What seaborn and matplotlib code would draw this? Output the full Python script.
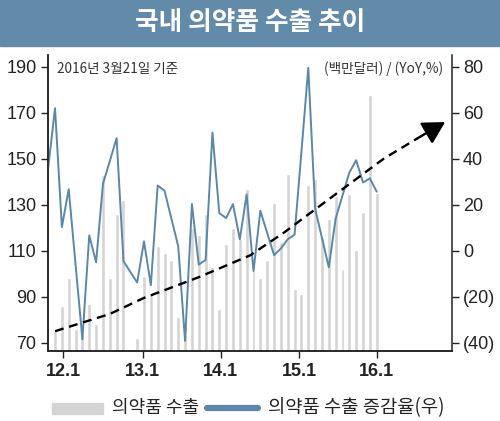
import matplotlib
matplotlib.use("Agg")

import matplotlib.pyplot as plt
import seaborn as sns
import numpy as np
import pandas as pd
from matplotlib.patches import Rectangle
from matplotlib.lines import Line2D

# monthly exports (million USD), one bar per month
export_vals = [75, 86, 98, 76, 74, 87, 78, 143, 98, 126,
               132, 66, 72, 99, 91, 112, 109, 106, 81, 78,
               120, 117, 126, 103, 84.5, 113, 119.7, 115, 136.7, 101,
               98.3, 105.8, 130.6, 114, 143.3, 93.5, 91, 138.6, 141.1, 116,
               123.7, 133.8, 101.9, 134.6, 110.2, 127, 177.8, 135.3]

# YoY growth (%), starts one month before the first bar
yoy_vals = [36, 62, 10.3, 26.8, -6, -38.5, 6.7, -5, 29, 39,
            49, -4.5, -9.2, -13.8, 4.1, -15, 28.4, 26.1, 14, 2,
            -39.2, 20.3, -6, -4, 51.4, 16.4, 14.2, 20.3, 5, 24.5,
            -8.8, 17.4, 7.7, -1.9, 1, 5, 7, 43, 79.6, 18.4,
            5.6, -7.2, 14, 24, 34, 39.4, 29.7, 31.5, 25.7]

# dashed trend (right axis units)
trend_k = [0, 8, 13, 21, 28.5, 33.5, 38, 43, 48, 53]
trend_yoy = [-35, -27.5, -20.5, -11.5, -2, 8, 18, 29, 40, 49]
arrow_tip = (57, 56)

tick_labels = ["12.1", "13.1", "14.1", "15.1", "16.1"]
tick_pos = [1.2, 12.8, 24.2, 35.7, 47.0]
left_ticks = [70, 90, 110, 130, 150, 170, 190]
right_ticks = [-40, -20, 0, 20, 40, 60, 80]
right_labels = ["(40)", "(20)", "0", "20", "40", "60", "80"]

BAR_C = "#d4d4d4"
LINE_C = "#5b87a8"
HEAD_C = "#628aa9"
KR = ["Noto Sans CJK KR", "DejaVu Sans"]

sns.set_style("white")
plt.rcParams["font.family"] = ["Liberation Sans", "Noto Sans CJK KR", "DejaVu Sans"]

fig = plt.figure(figsize=(5, 4.21), dpi=100)
ax = fig.add_axes([0.0954, 0.1663, 0.8086, 0.7027])

bars = pd.DataFrame({"k": np.arange(len(export_vals)), "v": export_vals})
sns.barplot(data=bars, x="k", y="v", native_scale=True, width=0.58,
            color=BAR_C, saturation=1, errorbar=None, ax=ax)
ax.set_xlabel("")
ax.set_ylabel("")

ax2 = ax.twinx()
line_k = np.arange(-1, len(yoy_vals) - 1)
sns.lineplot(x=line_k, y=yoy_vals, ax=ax2, color=LINE_C, lw=1.4)
ax2.plot(trend_k, trend_yoy, color="black", lw=1.7, ls=(0, (3.8, 2.4)))
ax2.annotate("", xy=arrow_tip, xytext=(trend_k[-1], trend_yoy[-1]),
             arrowprops=dict(arrowstyle="-|>,head_length=0.9,head_width=0.5",
                             color="black", lw=1.7, mutation_scale=15,
                             shrinkA=0, shrinkB=0))

ax.set_xlim(-1.07, 58.0)
ax.set_ylim(66.4, 195.1)
ax2.set_ylim(-43.6, 85.1)

ax.set_yticks(left_ticks)
ax2.set_yticks(right_ticks, right_labels)
ax.set_xticks(tick_pos, tick_labels)

for a in (ax, ax2):
    a.spines["top"].set_visible(False)
    for s in a.spines.values():
        s.set_linewidth(1.1)
        s.set_color("#222222")
ax.spines["right"].set_visible(False)

ax.tick_params(axis="y", left=True, direction="out", length=5, width=1,
               pad=3, labelsize=13, colors="#222222")
ax2.tick_params(axis="y", right=True, direction="out", length=5, width=1,
                pad=3, labelsize=13, colors="#222222")
ax.tick_params(axis="x", bottom=True, direction="out", length=5, width=1,
               pad=4, labelsize=13, colors="#222222")
for lbl in ax.get_xticklabels():
    lbl.set_fontweight("bold")

# header band
fig.patches.append(Rectangle((0, 1 - 46 / 421), 1, 46 / 421,
                             transform=fig.transFigure, color=HEAD_C, zorder=0))
fig.text(0.5, 1 - 23 / 421, "국내 의약품 수출 추이", color="white", fontsize=18.5,
         fontweight="bold", ha="center", va="center", family=KR)

fig.text(57 / 500, 1 - 69 / 421, "2016년 3월21일 기준", ha="left", va="center",
         fontsize=9.8, color="#333333", family=KR)
fig.text(443 / 500, 1 - 69 / 421, "(백만달러) / (YoY,%)", ha="right", va="center",
         fontsize=9.8, color="#333333", family=KR)

# legend laid out by hand to match the reference spacing
ly = 1 - 408 / 421
fig.patches.append(Rectangle((52 / 500, ly - 5.5 / 421), 51 / 500, 11 / 421,
                             transform=fig.transFigure, color=BAR_C))
fig.text(112 / 500, ly, "의약품 수출", ha="left", va="center", fontsize=13,
         fontweight="medium", color="#222222", family=KR)
fig.lines.append(Line2D([207 / 500, 258 / 500], [ly, ly], transform=fig.transFigure,
                        color=LINE_C, lw=4.5))
fig.text(268 / 500, ly, "의약품 수출 증감율(우)", ha="left", va="center", fontsize=13.5,
         fontweight="medium", color="#222222", family=KR)

fig.savefig("out.png", dpi=100)
plt.close(fig)
